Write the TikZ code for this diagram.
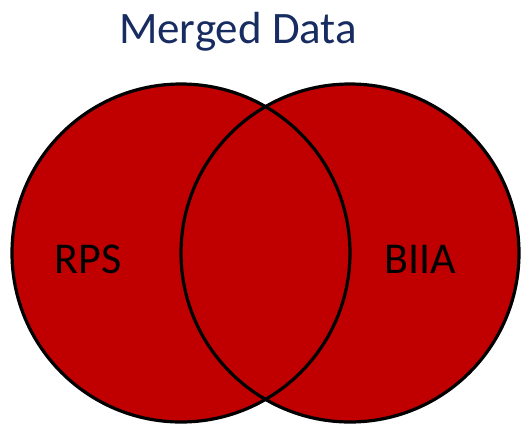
\documentclass[tikz,border=0pt]{standalone}
\usepackage{fontspec}
\setmainfont{Carlito}
\definecolor{setred}{HTML}{C00000}
\definecolor{titleblue}{HTML}{182C62}
\begin{document}
\begin{tikzpicture}[x=1pt,y=-1pt,
  setfill/.style={fill=setred},
  setline/.style={draw=black,line width=3.2pt},
  label/.style={font=\fontsize{44}{48}\selectfont,text=black,anchor=base,inner sep=0pt}]
  \useasboundingbox (0,0) rectangle (521,426);
  % the two sets
  \coordinate (cL) at (181,253);
  \coordinate (cR) at (350,253);
  \fill[setfill] (cL) circle[radius=169];
  \fill[setfill] (cR) circle[radius=169];
  \draw[setline] (cL) circle[radius=169];
  \draw[setline] (cR) circle[radius=169];
  % texts
  \node[label,text=titleblue,font=\fontsize{45}{50}\selectfont] (title) at (238,43) {Merged Data};
  \node[label] (rps) at (88,273) {RPS};
  \node[label] (biia) at (420,273) {BIIA};
\end{tikzpicture}
\end{document}
